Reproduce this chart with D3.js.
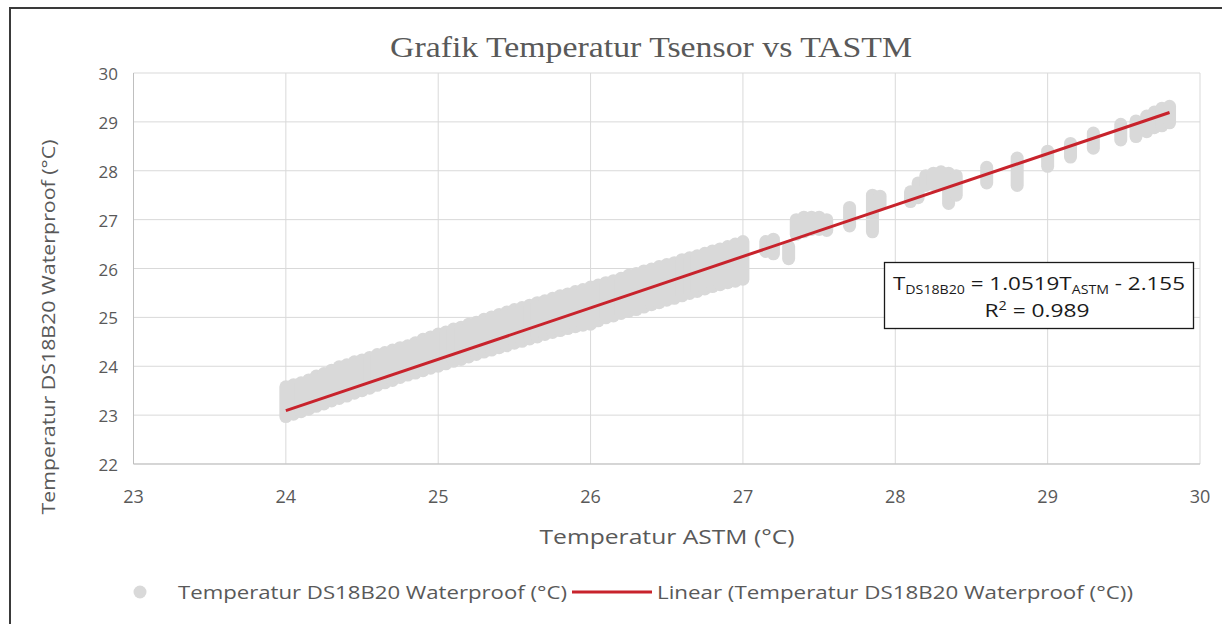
<!DOCTYPE html>
<html>
<head>
<meta charset="utf-8">
<script src="https://cdn.jsdelivr.net/npm/d3@7"></script>
<style>
  body { margin: 0; background: #fff; }
  svg { display: block; }
  text { fill: #595959; font-family: "Open Sans", Lato, sans-serif; }
</style>
</head>
<body>
<svg id="chart" width="1222" height="624"></svg>
<script>
// ASTM readings (x) with min / max DS18B20 readings seen at each one
const astm = [
  24.00, 24.05, 24.10, 24.15, 24.20, 24.25, 24.30, 24.35, 24.40, 24.45,
  24.50, 24.55, 24.60, 24.65, 24.70, 24.75, 24.80, 24.85, 24.90, 24.95,
  25.00, 25.05, 25.10, 25.15, 25.20, 25.25, 25.30, 25.35, 25.40, 25.45,
  25.50, 25.55, 25.60, 25.65, 25.70, 25.75, 25.80, 25.85, 25.90, 25.95,
  26.00, 26.05, 26.10, 26.15, 26.20, 26.25, 26.30, 26.35, 26.40, 26.45,
  26.50, 26.55, 26.60, 26.65, 26.70, 26.75, 26.80, 26.85, 26.90, 26.95,
  27.00, 27.15, 27.20, 27.30, 27.35, 27.40, 27.45, 27.50, 27.55, 27.70,
  27.85, 27.90, 28.10, 28.15, 28.20, 28.25, 28.30, 28.35, 28.40, 28.60,
  28.80, 29.00, 29.15, 29.30, 29.48, 29.58, 29.65, 29.70, 29.75, 29.80
];
const sensorMin = [
  22.97, 23.02, 23.07, 23.12, 23.18, 23.23, 23.29, 23.34, 23.39, 23.45,
  23.50, 23.55, 23.61, 23.66, 23.71, 23.77, 23.82, 23.86, 23.91, 23.96,
  24.00, 24.05, 24.10, 24.14, 24.19, 24.24, 24.29, 24.33, 24.38, 24.42,
  24.47, 24.51, 24.56, 24.60, 24.65, 24.69, 24.73, 24.77, 24.81, 24.84,
  24.86, 24.93, 24.99, 25.03, 25.08, 25.12, 25.16, 25.21, 25.26, 25.30,
  25.35, 25.39, 25.44, 25.49, 25.53, 25.58, 25.63, 25.67, 25.71, 25.74,
  25.78, 26.35, 26.30, 26.20, 26.70, 26.75, 26.80, 26.80, 26.78, 26.87,
  26.75, 27.30, 27.37, 27.45, 27.70, 27.72, 27.74, 27.33, 27.50, 27.75,
  27.70, 28.09, 28.28, 28.46, 28.63, 28.70, 28.80, 28.88, 28.92, 28.98
];
const sensorMax = [
  23.58, 23.62, 23.66, 23.72, 23.80, 23.85, 23.92, 23.99, 24.03, 24.09,
  24.13, 24.18, 24.24, 24.28, 24.33, 24.38, 24.42, 24.48, 24.55, 24.60,
  24.66, 24.70, 24.76, 24.80, 24.86, 24.90, 24.96, 25.01, 25.06, 25.11,
  25.16, 25.20, 25.25, 25.30, 25.34, 25.39, 25.44, 25.48, 25.53, 25.57,
  25.62, 25.66, 25.71, 25.75, 25.80, 25.86, 25.90, 25.95, 25.99, 26.04,
  26.08, 26.12, 26.18, 26.22, 26.26, 26.31, 26.36, 26.40, 26.45, 26.50,
  26.55, 26.55, 26.60, 26.45, 27.00, 27.05, 27.05, 27.05, 27.00, 27.25,
  27.50, 27.48, 27.57, 27.75, 27.90, 27.95, 27.98, 27.95, 27.90, 28.07,
  28.26, 28.40, 28.56, 28.77, 28.95, 29.02, 29.12, 29.20, 29.28, 29.32
];

// trendline from the chart's equation
const slope = 1.0519;
const intercept = -2.155;
const fitRange = [24.0, 29.8];

const xTicks = [23, 24, 25, 26, 27, 28, 29, 30];
const yTicks = [22, 23, 24, 25, 26, 27, 28, 29, 30];

const svg = d3.select('#chart');

// outer frame
svg.append('rect')
  .attr('x', 10).attr('y', 8)
  .attr('width', 1240).attr('height', 660)
  .attr('fill', '#fff')
  .attr('stroke', '#3a3a3a')
  .attr('stroke-width', 2);

const x = d3.scaleLinear().domain([23, 30]).range([133.5, 1200]);
const y = d3.scaleLinear().domain([22, 30]).range([464, 73]);

// gridlines
svg.append('g')
  .selectAll('line')
  .data(xTicks)
  .join('line')
  .attr('x1', (d) => x(d)).attr('x2', (d) => x(d))
  .attr('y1', y(30)).attr('y2', y(22))
  .attr('stroke', '#d9d9d9');

svg.append('g')
  .selectAll('line')
  .data(yTicks)
  .join('line')
  .attr('x1', x(23)).attr('x2', x(30))
  .attr('y1', (d) => y(d)).attr('y2', (d) => y(d))
  .attr('stroke', '#d9d9d9');

// axis lines
svg.append('line')
  .attr('x1', x(23)).attr('x2', x(30))
  .attr('y1', y(22)).attr('y2', y(22))
  .attr('stroke', '#bfbfbf');
svg.append('line')
  .attr('x1', x(23)).attr('x2', x(23))
  .attr('y1', y(30)).attr('y2', y(22))
  .attr('stroke', '#bfbfbf');

// tick labels
svg.append('g')
  .selectAll('text')
  .data(xTicks)
  .join('text')
  .attr('x', (d) => x(d))
  .attr('y', 503)
  .attr('text-anchor', 'middle')
  .style('font-size', '18px')
  .text((d) => d);

svg.append('g')
  .selectAll('text')
  .data(yTicks)
  .join('text')
  .attr('x', 118)
  .attr('y', (d) => y(d) + 7)
  .attr('text-anchor', 'end')
  .style('font-size', '17px')
  .text((d) => d);

// scatter: each ASTM reading shown as a stack of round markers
const r = 6.5;
svg.append('g')
  .selectAll('line')
  .data(astm)
  .join('line')
  .attr('x1', (d) => x(d)).attr('x2', (d) => x(d))
  .attr('y1', (d, i) => y(sensorMin[i]))
  .attr('y2', (d, i) => y(sensorMax[i]))
  .attr('stroke', '#d9d9d9')
  .attr('stroke-width', r * 2)
  .attr('stroke-linecap', 'round');

// linear trendline
svg.append('line')
  .attr('x1', x(fitRange[0]))
  .attr('y1', y(slope * fitRange[0] + intercept))
  .attr('x2', x(fitRange[1]))
  .attr('y2', y(slope * fitRange[1] + intercept))
  .attr('stroke', '#c8232c')
  .attr('stroke-width', 3);

// equation box
svg.append('rect')
  .attr('x', 884.5).attr('y', 262.5)
  .attr('width', 309).attr('height', 66)
  .attr('fill', '#fff')
  .attr('stroke', '#1a1a1a')
  .attr('stroke-width', 1.3);

const eq = svg.append('text')
  .attr('x', 1039).attr('y', 290)
  .attr('text-anchor', 'middle')
  .attr('textLength', 292)
  .attr('lengthAdjust', 'spacingAndGlyphs')
  .style('font-size', '19px')
  .style('fill', '#1a1a1a');
eq.append('tspan').text('T');
eq.append('tspan').attr('dy', 4).style('font-size', '12px').text('DS18B20');
eq.append('tspan').attr('dy', -4).text(' = 1.0519T');
eq.append('tspan').attr('dy', 4).style('font-size', '12px').text('ASTM');
eq.append('tspan').attr('dy', -4).text(' - 2.155');

const r2 = svg.append('text')
  .attr('x', 1037).attr('y', 317)
  .attr('text-anchor', 'middle')
  .attr('textLength', 105)
  .attr('lengthAdjust', 'spacingAndGlyphs')
  .style('font-size', '19px')
  .style('fill', '#1a1a1a');
r2.append('tspan').text('R');
r2.append('tspan').attr('dy', -7).style('font-size', '12px').text('2');
r2.append('tspan').attr('dy', 7).text(' =  0.989');

// title and axis titles
svg.append('text')
  .attr('x', 651).attr('y', 57)
  .attr('text-anchor', 'middle')
  .attr('textLength', 522)
  .attr('lengthAdjust', 'spacingAndGlyphs')
  .style('font-family', '"Liberation Serif", "DejaVu Serif", serif')
  .style('font-size', '30px')
  .text('Grafik Temperatur Tsensor vs TASTM');

svg.append('text')
  .attr('x', 667).attr('y', 544)
  .attr('text-anchor', 'middle')
  .attr('textLength', 255)
  .attr('lengthAdjust', 'spacingAndGlyphs')
  .style('font-size', '20px')
  .text('Temperatur ASTM (°C)');

svg.append('text')
  .attr('transform', 'translate(55,327) rotate(-90)')
  .attr('text-anchor', 'middle')
  .attr('textLength', 375)
  .attr('lengthAdjust', 'spacingAndGlyphs')
  .style('font-size', '19px')
  .text('Temperatur DS18B20 Waterproof (°C)');

// legend
const legendY = 592;
svg.append('circle')
  .attr('cx', 140).attr('cy', legendY)
  .attr('r', r)
  .attr('fill', '#d9d9d9');
svg.append('text')
  .attr('x', 178).attr('y', legendY + 7)
  .attr('textLength', 389)
  .attr('lengthAdjust', 'spacingAndGlyphs')
  .style('font-size', '18px')
  .text('Temperatur DS18B20 Waterproof (°C)');
svg.append('line')
  .attr('x1', 572).attr('x2', 652)
  .attr('y1', legendY).attr('y2', legendY)
  .attr('stroke', '#c8232c')
  .attr('stroke-width', 3);
svg.append('text')
  .attr('x', 657).attr('y', legendY + 7)
  .attr('textLength', 476)
  .attr('lengthAdjust', 'spacingAndGlyphs')
  .style('font-size', '18px')
  .text('Linear (Temperatur DS18B20 Waterproof (°C))');
</script>
</body>
</html>
